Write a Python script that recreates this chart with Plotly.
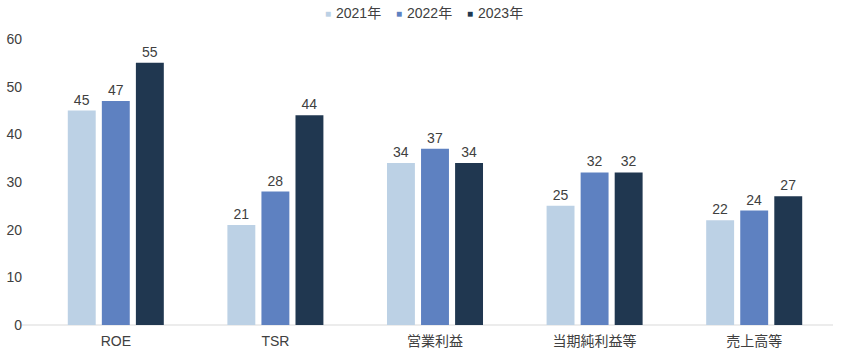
import plotly.graph_objects as go

categories = ["ROE", "TSR", "営業利益", "当期純利益等", "売上高等"]
series_names = ["2021年", "2022年", "2023年"]
values_2021 = [45, 21, 34, 25, 22]
values_2022 = [47, 28, 37, 32, 24]
values_2023 = [55, 44, 34, 32, 27]
colors = ["#BCD1E5", "#5E81C1", "#203750"]
y_ticks = [0, 10, 20, 30, 40, 50, 60]

W, H = 849, 361
L, R, T, B = 36, 15, 39, 36
font_family = "Liberation Sans, Arial, Noto Sans CJK JP, sans-serif"
fig = go.Figure()
for name, vals, col in zip(series_names, [values_2021, values_2022, values_2023], colors):
    fig.add_trace(go.Bar(
        x=categories, y=vals, name=name, marker_color=col, marker_line_width=0,
        text=[str(v) for v in vals], textposition="outside",
        textfont=dict(size=14, color="#404040", family=font_family),
        cliponaxis=False,
    ))

# custom legend (small squares like the original)
legend_start_px = 328
legend_pitch_px = 71
pw = W - L - R
ph = H - T - B
for i, (name, col) in enumerate(zip(series_names, colors)):
    sq_px = legend_start_px + i * legend_pitch_px
    ly = (H - 13 - B) / ph
    fig.add_annotation(x=(sq_px - L) / pw, y=ly, xref="paper", yref="paper",
                       text="■", showarrow=False, xanchor="center", yanchor="middle",
                       font=dict(size=10, color=col, family=font_family))
    fig.add_annotation(x=(sq_px + 6 - L) / pw, y=ly, xref="paper", yref="paper",
                       text=name, showarrow=False, xanchor="left", yanchor="middle",
                       font=dict(size=14, color="#404040", family=font_family))

# baseline axis line (extends slightly left of the first category)
fig.add_shape(type="line", xref="paper", yref="paper", x0=(22 - L) / pw, x1=(833 - L) / pw,
              y0=0, y1=0, line=dict(color="#D9D9D9", width=1), layer="below")

fig.update_layout(
    width=W, height=H,
    margin=dict(l=L, r=R, t=T, b=B, autoexpand=False),
    paper_bgcolor="white", plot_bgcolor="white",
    barmode="group", bargap=0.36, bargroupgap=0.18,
    font=dict(family=font_family, size=13, color="#404040"),
    showlegend=False,
    xaxis=dict(showgrid=False, showline=False,
               ticks="", tickfont=dict(size=14, color="#404040"), ticklabelstandoff=6),
    yaxis=dict(range=[0, 60], tickvals=y_ticks, showgrid=False, zeroline=False,
               showline=False, ticks="", tickfont=dict(size=14, color="#404040"),
               ticklabelstandoff=13),
)
fig.write_html("out.html", config={"displayModeBar": False},
               post_script="document.body.style.margin='0';document.body.style.overflow='hidden';")
